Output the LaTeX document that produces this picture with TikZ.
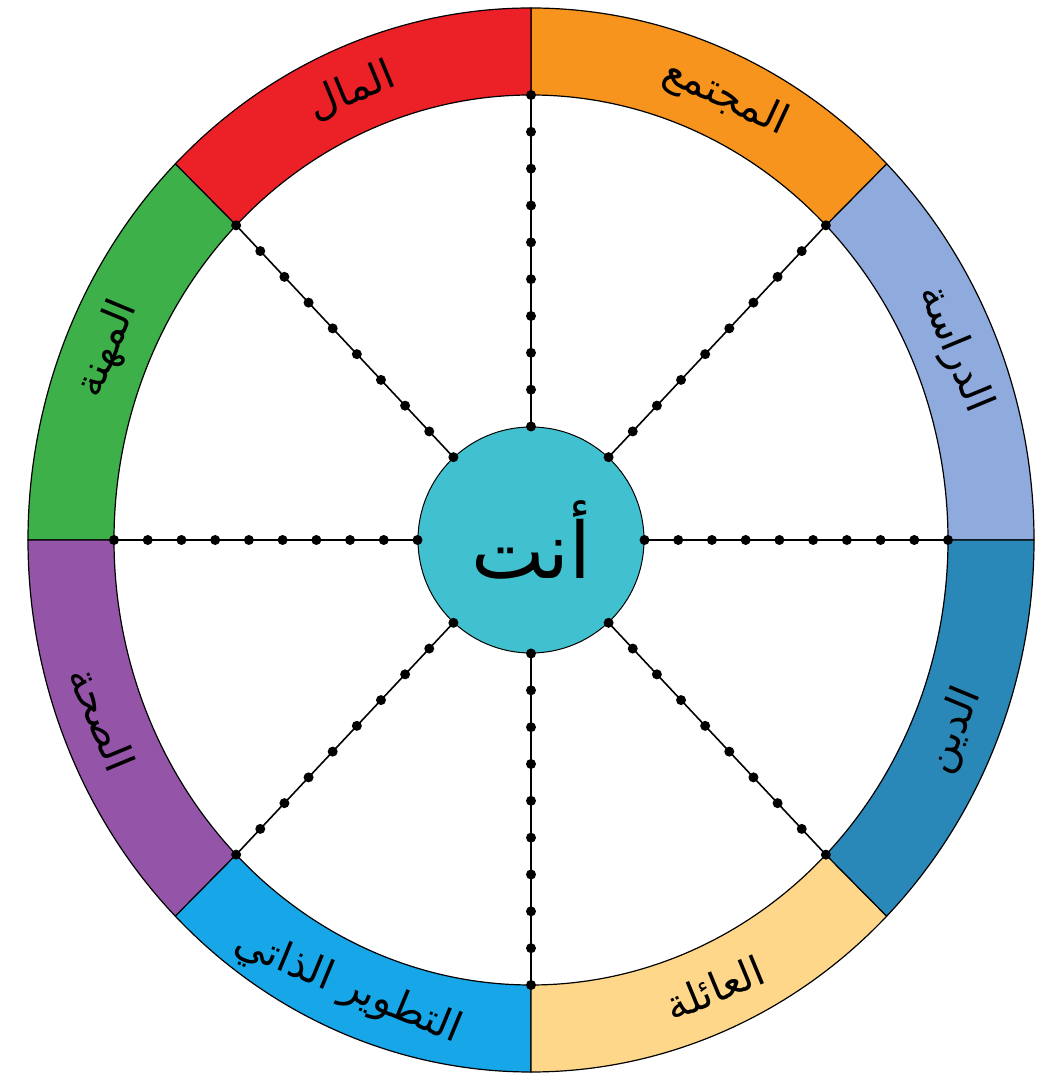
\documentclass[tikz,border=0pt]{standalone}
\usepackage{fontspec}
\newfontfamily\arabicfont[Script=Arabic]{DejaVu Sans}
\TeXXeTstate=1
\definecolor{cStudy}{HTML}{8FAADC}
\definecolor{cSociety}{HTML}{F7941D}
\definecolor{cMoney}{HTML}{EC2027}
\definecolor{cCareer}{HTML}{3DB049}
\definecolor{cHealth}{HTML}{9455A8}
\definecolor{cSelf}{HTML}{17A6E8}
\definecolor{cFamily}{HTML}{FED78A}
\definecolor{cReligion}{HTML}{2A88B8}
\definecolor{cYou}{HTML}{41C1CF}
\tikzset{
  segment/.style={draw=black, line width=1.2pt},
  spoke/.style={draw=black, line width=1.6pt},
  dotmark/.style={circle, fill=black, inner sep=0pt, minimum size=10pt},
  seglabel/.style={font=\arabicfont\fontsize{41}{48}\selectfont, text=black, inner sep=0pt},
  youstyle/.style={circle, draw=black, line width=1pt, fill=cYou, minimum size=226pt, inner sep=0pt, font=\arabicfont\fontsize{78}{86}\selectfont}
}
\begin{document}
\begin{tikzpicture}[x=1pt,y=1pt]
\useasboundingbox (0,0) rectangle (1059,1076);
\coordinate (C) at (531,536);
\foreach \a/\col in {0/cStudy,45/cSociety,90/cMoney,135/cCareer,180/cHealth,225/cSelf,270/cFamily,315/cReligion}{
  \pgfmathsetmacro\b{\a+45}
  \path[segment, fill=\col] ([shift={(C)}]\a:417pt and 445pt)
     arc[start angle=\a, end angle=\b, x radius=417pt, y radius=445pt]
     -- ([shift={(C)}]\b:503pt and 532pt)
     arc[start angle=\b, end angle=\a, x radius=503pt, y radius=532pt] -- cycle;
}
\node[youstyle] (you) at (C) {\beginR أنت\endR};
\foreach \i in {0,...,7}{
  \pgfmathsetmacro\ang{45*\i}
  \coordinate (r\i) at ([shift={(C)}]\ang:417pt and 445pt);
  \draw[spoke] (you) -- (r\i)
    \foreach \k [evaluate=\k as \pp using \k/9] in {0,...,9}{ node[dotmark, pos=\pp] (d\i-\k) {} };
}
\node[seglabel, rotate=-67.5] (lStudy) at ([shift={(C)}]23:460pt and 488pt) {\beginR الدراسة\endR};
\node[seglabel, rotate=-25] (lSociety) at ([shift={(C)}]65:460pt and 488pt) {\beginR المجتمع\endR};
\node[seglabel, rotate=22.5] (lMoney) at ([shift={(C)}]113:460pt and 488pt) {\beginR المال\endR};
\node[seglabel, rotate=67.5] (lCareer) at ([shift={(C)}]157:460pt and 488pt) {\beginR المهنة\endR};
\node[seglabel, rotate=-67.5] (lHealth) at ([shift={(C)}]201.5:460pt and 488pt) {\beginR الصحة\endR};
\node[seglabel, rotate=-22.5] (lSelf) at ([shift={(C)}]246.5:460pt and 488pt) {\beginR التطوير الذاتي\endR};
\node[seglabel, rotate=22.5] (lFamily) at ([shift={(C)}]293.5:460pt and 488pt) {\beginR العائلة\endR};
\node[seglabel, rotate=67.5] (lReligion) at ([shift={(C)}]337:460pt and 488pt) {\beginR الدين\endR};
\end{tikzpicture}
\end{document}
